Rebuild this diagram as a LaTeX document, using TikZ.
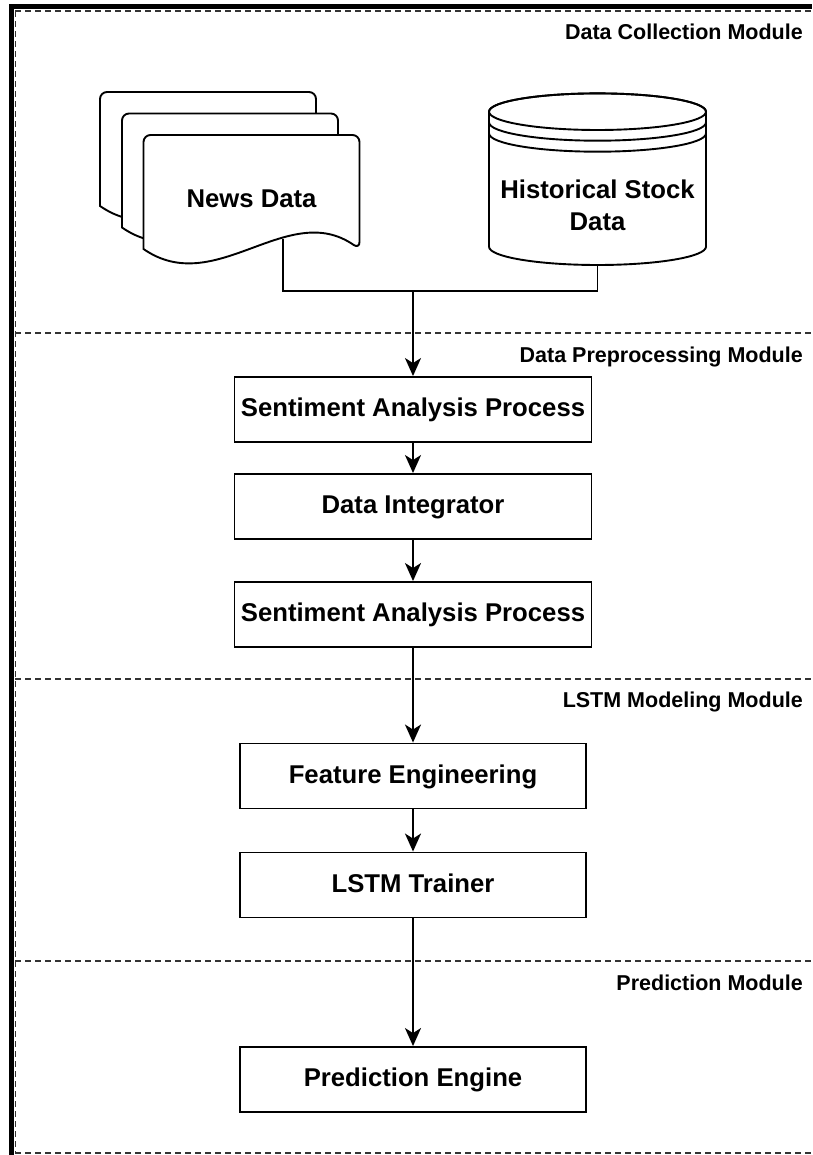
\documentclass[tikz,border=0pt]{standalone}
\usepackage{fontspec}
\setmainfont{Liberation Sans}
\usetikzlibrary{arrows.meta}
\newcommand\mydocshape[2]{%
  \draw[docshape, rounded corners=7pt] (#1,{-(#2)-114}) -- (#1,{-(#2)}) -- ({#1+216},{-(#2)}) -- ({#1+216},{-(#2)-114}) [sharp corners] .. controls ({#1+144},{-(#2)-64}) and ({#1+72},{-(#2)-164}) .. cycle;}
\begin{document}
\begin{tikzpicture}[x=1pt,y=1pt,
  box/.style={draw, line width=1.9pt, fill=white, minimum height=65pt, inner sep=0pt,
    text height=18.5pt, text depth=4.1pt, font=\fontsize{25.7}{30}\selectfont\bfseries},
  widebox/.style={box, minimum width=357pt},
  narrowbox/.style={box, minimum width=346pt},
  conn/.style={line width=1.9pt},
  arr/.style={conn, -{Stealth[length=18pt,width=16pt,inset=5pt]}},
  modline/.style={dash pattern=on 6pt off 4pt, line width=1.5pt, draw=black!80},
  modlabel/.style={anchor=base east, font=\fontsize{21.5}{24}\selectfont\bfseries, inner sep=0pt},
  docshape/.style={draw, line width=1.9pt, fill=white},
  bigtext/.style={font=\fontsize{25.7}{32}\selectfont\bfseries, inner sep=0pt, align=center},
]
\useasboundingbox (0,0) rectangle (812,-1155);
\fill[white] (0,0) rectangle (812,-1155);

% module separators (dashed)
\draw[modline] (15,-11) -- (812,-11);
\draw[modline] (15,-333) -- (812,-333);
\draw[modline] (15,-679) -- (812,-679);
\draw[modline] (15,-961) -- (812,-961);
\draw[modline] (15,-1153) -- (812,-1153);
\draw[modline] (15.5,-11) -- (15.5,-1153);

% outer thick frame
\draw[line width=5pt] (11.5,-1155) -- (11.5,-7) -- (812,-7);

% module labels
\node[modlabel] (lab1) at (803,-40) {Data Collection Module};
\node[modlabel] (lab2) at (803,-362) {Data Preprocessing Module};
\node[modlabel] (lab3) at (803,-707) {LSTM Modeling Module};
\node[modlabel] (lab4) at (803,-990) {Prediction Module};

% news data (stacked documents)
\mydocshape{100}{92}
\mydocshape{122}{113.5}
\mydocshape{143.5}{135}
\node[bigtext] (news) at (251.5,-199) {News Data};

% historical stock data (cylinder)
\draw[docshape] (489,-111.7) -- (489,-246.7) arc[start angle=180,end angle=360,x radius=108.5pt,y radius=18.3pt] -- (706,-111.7) arc[start angle=0,end angle=180,x radius=108.5pt,y radius=18.3pt] -- cycle;
\draw[line width=1.9pt] (597.5,-111.7) ellipse[x radius=108.5pt,y radius=18.3pt];
\draw[line width=1.9pt] (489,-122.4) arc[start angle=180,end angle=360,x radius=108.5pt,y radius=18.3pt];
\draw[line width=1.9pt] (489,-133.4) arc[start angle=180,end angle=360,x radius=108.5pt,y radius=18.3pt];
\node[bigtext] (hist) at (597.5,-205.8) {Historical Stock\\Data};

% process boxes
\node[widebox] (sa1) at (413,-409.5) {Sentiment Analysis Process};
\node[widebox] (di) at (413,-506.5) {Data Integrator};
\node[widebox] (sa2) at (413,-614.5) {Sentiment Analysis Process};
\node[narrowbox] (fe) at (413,-776) {Feature Engineering};
\node[narrowbox] (lt) at (413,-885) {LSTM Trainer};
\node[narrowbox] (pe) at (413,-1079.5) {Prediction Engine};

% connectors
\coordinate (newsout) at (283,-239);
\coordinate (dbout) at (597.5,-265);
\coordinate (join) at (413,-291);
\draw[conn] (newsout) |- (join);
\draw[conn] (dbout) |- (join);
\draw[arr] (join) -- (sa1.north);
\draw[arr] (sa1.south) -- (di.north);
\draw[arr] (di.south) -- (sa2.north);
\draw[arr] (sa2.south) -- (fe.north);
\draw[arr] (fe.south) -- (lt.north);
\draw[arr] (lt.south) -- (pe.north);
\end{tikzpicture}
\end{document}
